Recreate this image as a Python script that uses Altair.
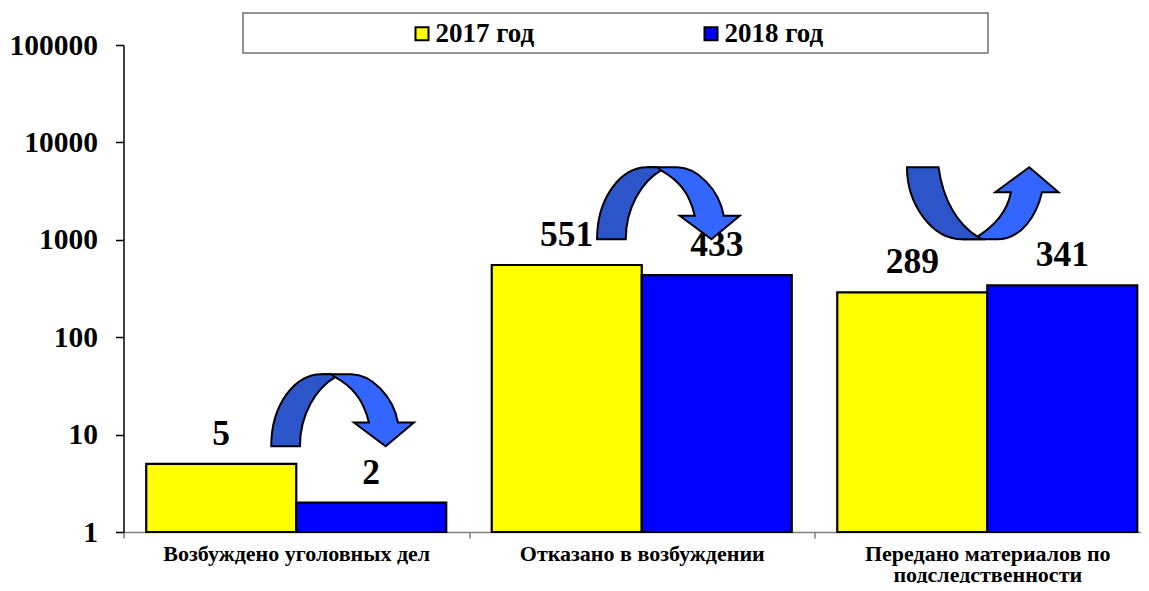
import altair as alt
import pandas as pd

categories = ["Возбуждено уголовных дел", "Отказано в возбуждении", "Передано материалов по|подследственности"]
series = ["2017 год", "2018 год"]
values_2017 = [5, 551, 289]
values_2018 = [2, 433, 341]
colors = ["#FFFF00", "#0000FF"]
y_ticks = [1, 10, 100, 1000, 10000, 100000]

# curved arrows: category, anchor value on the y scale, sideways shift
arrow_categories = [categories[0], categories[1], categories[2]]
arrow_anchor = [7.6, 1012, 1012]
arrow_shift = [-25, -44.7, -80.3]
over_light = "M0.5,-0.72 L0.8,-0.72 C1.0,-0.72 1.22,-0.5 1.267,-0.236 L1.427,-0.236 L1.144,0 L0.827,-0.236 L0.977,-0.236 C0.92,-0.48 0.8,-0.6 0.64,-0.69 Z"
over_dark = "M0,0 C0,-0.42 0.24,-0.72 0.5,-0.72 L0.6,-0.72 L0.64,-0.69 C0.45,-0.58 0.287,-0.32 0.287,0 Z"
under_light = "M0.55,0 L0.9,0 C1.15,0 1.3,-0.25 1.35,-0.47 L1.516,-0.47 L1.223,-0.72 L0.883,-0.47 L1.04,-0.47 C1.0,-0.27 0.88,-0.14 0.706,-0.026 Z"
under_dark = "M0,-0.72 L0.316,-0.72 C0.36,-0.4 0.5,-0.15 0.706,-0.026 L0.75,0 L0.55,0 C0.25,0 0,-0.35 0,-0.72 Z"
arrow_shapes = [(over_light, over_dark), (over_light, over_dark), (under_light, under_dark)]

rows = []
for c, a, b in zip(categories, values_2017, values_2018):
    rows.append({"category": c, "series": series[0], "value": a})
    rows.append({"category": c, "series": series[1], "value": b})
df = pd.DataFrame(rows)

FONT = "Liberation Serif"
STEP = 345.5

x = alt.X(
    "category:N",
    sort=categories,
    scale=alt.Scale(domain=categories, range=[0, 3 * STEP], paddingInner=0.1317, paddingOuter=0.0658),
    axis=alt.Axis(
        title=None,
        labelAngle=0,
        labelFont=FONT,
        labelFontSize=22,
        labelFontWeight="bold",
        labelColor="black",
        labelLimit=0,
        labelPadding=15,
        labelLineHeight=21,
        labelBaseline="middle",
        labelExpr="split(datum.label, '|')",
        tickOffset=-STEP / 2,
        labelOffset=STEP / 2,
        tickSize=6,
        tickColor="#808080",
        domainColor="#808080",
        tickWidth=1.5,
        domainWidth=1.5,
        grid=False,
    ),
)
y = alt.Y(
    "value:Q",
    scale=alt.Scale(type="log", domain=[1, 100000], nice=False),
    axis=alt.Axis(
        title=None,
        values=y_ticks,
        format="d",
        labelFont=FONT,
        labelFontSize=29.5,
        labelFontWeight="bold",
        labelColor="black",
        labelPadding=18,
        tickSize=8,
        tickColor="black",
        domainColor="black",
        tickWidth=1.5,
        domainWidth=1.5,
        grid=False,
    ),
)
x_off = alt.XOffset("series:N", sort=series, scale=alt.Scale(domain=series, paddingInner=0, paddingOuter=0))

frame = alt.Chart(df.head(1)).mark_rect(fill="white", stroke="#707070", strokeWidth=1.5).encode(
    x=alt.value(119.5), x2=alt.value(864.5), y=alt.value(-32), y2=alt.value(8)
)

bars = alt.Chart(df).mark_bar(stroke="black", strokeWidth=2.2, opacity=1).encode(
    x=x,
    xOffset=x_off,
    y=y,
    y2=alt.Y2(datum=1),
    color=alt.Color(
        "series:N",
        scale=alt.Scale(domain=series, range=colors),
        legend=alt.Legend(
            title=None,
            orient="none",
            legendX=285,
            legendY=-25,
            direction="horizontal",
            columns=2,
            columnPadding=163,
            symbolType="square",
            symbolSize=170,
            symbolStrokeColor="black",
            symbolStrokeWidth=2,
            labelFont=FONT,
            labelFontSize=27,
            labelFontWeight="bold",
            labelColor="black",
            labelLimit=0,
            labelOffset=0,
        ),
    ),
)

labels = alt.Chart(df).mark_text(
    font=FONT, fontSize=35.5, fontWeight="bold", color="black", baseline="alphabetic", align="center", dy=-19
).encode(x=x, xOffset=x_off, y=y, text=alt.Text("value:Q", format="d"))

layers = [frame, bars, labels]
for cat, anchor, shift, shapes in zip(arrow_categories, arrow_anchor, arrow_shift, arrow_shapes):
    one = pd.DataFrame({"category": [cat], "value": [anchor]})
    for shape, fill in zip(shapes, ["#3366FF", "#2B55C8"]):
        layers.append(
            alt.Chart(one).mark_point(
                shape=shape, size=40000, filled=True, fill=fill, stroke="black",
                strokeWidth=2, opacity=1, xOffset=shift,
            ).encode(x=x, y=y)
        )

chart = alt.layer(*layers).properties(
    width=1017.5,
    height=487,
    padding={"left": 115.5, "top": 37, "right": 0, "bottom": 51},
    autosize=alt.AutoSizeParams(type="none"),
    background="white",
).configure_view(stroke=None)

chart.save("out.html", embed_options={"renderer": "svg", "actions": False})
